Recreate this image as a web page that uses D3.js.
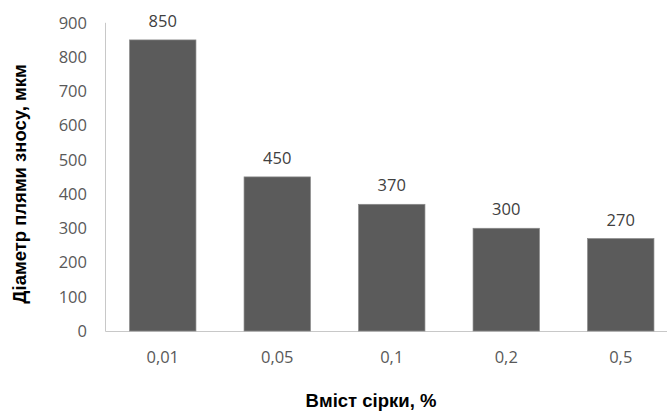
<!DOCTYPE html>
<html><head><meta charset="utf-8">
<script src="https://cdn.jsdelivr.net/npm/d3@7"></script>
<style>body{margin:0;background:#fff}svg{display:block}</style>
</head><body>
<svg id="c" width="667" height="412"></svg>
<script>
const categories = ["0,01","0,05","0,1","0,2","0,5"];
const values = [850,450,370,300,270];
const yTicks = [0,100,200,300,400,500,600,700,800,900];
const xTitle = "Вміст сірки, %";
const yTitle = "Діаметр плями зносу, мкм";

const svg = d3.select("#c");
const x = d3.scaleBand().domain(categories).range([105.5, 678]).paddingInner(0.42).paddingOuter(0.21);
const y = d3.scaleLinear().domain([0,900]).range([331, 22.8]);

svg.append("line").attr("x1",105.5).attr("x2",667).attr("y1",331.5).attr("y2",331.5)
  .attr("stroke","#c8c8c8").attr("stroke-width",1);
svg.append("line").attr("x1",105.5).attr("x2",105.5).attr("y1",y(900)).attr("y2",331.5)
  .attr("stroke","#c8c8c8").attr("stroke-width",1);

function txt(sel){
  return sel.attr("font-family","Open Sans, sans-serif").attr("font-size",16.5);
}

txt(svg.selectAll(".yt").data(yTicks).enter().append("text"))
  .attr("x",87).attr("y",d=>y(d)).attr("dy","0.36em").attr("text-anchor","end")
  .attr("fill","#595959").text(d=>d);

svg.selectAll(".bar").data(values).enter().append("rect")
  .attr("x",(d,i)=>x(categories[i])).attr("width",x.bandwidth())
  .attr("y",d=>y(d)).attr("height",d=>y(0)-y(d))
  .attr("fill","#5b5b5b").attr("stroke","#8a8a8a").attr("stroke-width",0.7);

txt(svg.selectAll(".vl").data(values).enter().append("text"))
  .attr("x",(d,i)=>x(categories[i])+x.bandwidth()/2).attr("y",d=>y(d)-13)
  .attr("text-anchor","middle").attr("fill","#404040").text(d=>d);

txt(svg.selectAll(".xt").data(categories).enter().append("text"))
  .attr("x",d=>x(d)+x.bandwidth()/2).attr("y",362.5)
  .attr("text-anchor","middle").attr("fill","#595959").text(d=>d);

svg.append("text").attr("x",371).attr("y",407).attr("text-anchor","middle")
  .attr("font-family","Liberation Sans, Arial, sans-serif").attr("font-weight","bold")
  .attr("font-size",18.5).attr("fill","#000").text(xTitle);
svg.append("text").attr("transform","translate(26,184) rotate(-90)").attr("text-anchor","middle")
  .attr("font-family","Liberation Sans, Arial, sans-serif").attr("font-weight","bold")
  .attr("font-size",18.5).attr("fill","#000").text(yTitle);
</script>
</body></html>
